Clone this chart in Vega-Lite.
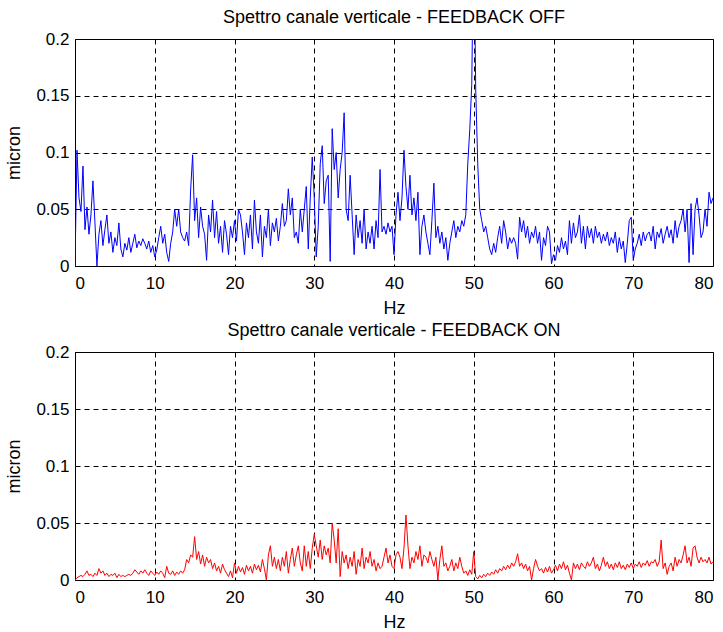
{
  "$schema": "https://vega.github.io/schema/vega-lite/v6.json",
  "padding": {"left": 5, "top": 8, "right": 0, "bottom": 0},
  "spacing": 3,
  "data": {
    "values": [
      {"hz":0,"off":0,"on":0},{"hz":0.25,"off":0.102,"on":0.002},{"hz":0.5,"off":0.06,"on":0.003},{"hz":0.75,"off":0.048,"on":0.004},
      {"hz":1,"off":0.088,"on":0.003},{"hz":1.25,"off":0.032,"on":0.005},{"hz":1.5,"off":0.052,"on":0.008},{"hz":1.75,"off":0.028,"on":0.004},
      {"hz":2,"off":0.045,"on":0.005},{"hz":2.25,"off":0.075,"on":0.003},{"hz":2.5,"off":0.038,"on":0.006},{"hz":2.75,"off":0,"on":0.004},
      {"hz":3,"off":0.028,"on":0.01},{"hz":3.25,"off":0.04,"on":0.006},{"hz":3.5,"off":0.018,"on":0.008},{"hz":3.75,"off":0.032,"on":0.004},
      {"hz":4,"off":0.045,"on":0.006},{"hz":4.25,"off":0.02,"on":0.003},{"hz":4.5,"off":0.03,"on":0.005},{"hz":4.75,"off":0.012,"on":0.004},
      {"hz":5,"off":0.025,"on":0.006},{"hz":5.25,"off":0.018,"on":0.002},{"hz":5.5,"off":0.038,"on":0.005},{"hz":5.75,"off":0.015,"on":0.003},
      {"hz":6,"off":0.008,"on":0.004},{"hz":6.25,"off":0.02,"on":0.003},{"hz":6.5,"off":0.014,"on":0.004},{"hz":6.75,"off":0.025,"on":0.005},
      {"hz":7,"off":0.012,"on":0.004},{"hz":7.25,"off":0.02,"on":0.006},{"hz":7.5,"off":0.028,"on":0.009},{"hz":7.75,"off":0.016,"on":0.007},
      {"hz":8,"off":0.022,"on":0.005},{"hz":8.25,"off":0.018,"on":0.008},{"hz":8.5,"off":0.024,"on":0.006},{"hz":8.75,"off":0.02,"on":0.009},
      {"hz":9,"off":0.015,"on":0.006},{"hz":9.25,"off":0.022,"on":0.004},{"hz":9.5,"off":0.012,"on":0.008},{"hz":9.75,"off":0.018,"on":0.006},
      {"hz":10,"off":0.008,"on":0.004},{"hz":10.25,"off":0.014,"on":0.007},{"hz":10.5,"off":0.025,"on":0.005},{"hz":10.75,"off":0.035,"on":0.008},
      {"hz":11,"off":0.02,"on":0.006},{"hz":11.25,"off":0.028,"on":0.002},{"hz":11.5,"off":0.012,"on":0.012},{"hz":11.75,"off":0.004,"on":0.006},
      {"hz":12,"off":0.02,"on":0.005},{"hz":12.25,"off":0.03,"on":0.008},{"hz":12.5,"off":0.05,"on":0.004},{"hz":12.75,"off":0.035,"on":0.007},
      {"hz":13,"off":0.05,"on":0.005},{"hz":13.25,"off":0.03,"on":0.008},{"hz":13.5,"off":0.025,"on":0.006},{"hz":13.75,"off":0.022,"on":0.009},
      {"hz":14,"off":0.03,"on":0.018},{"hz":14.25,"off":0.018,"on":0.015},{"hz":14.5,"off":0.067,"on":0.022},{"hz":14.75,"off":0.098,"on":0.02},
      {"hz":15,"off":0.04,"on":0.038},{"hz":15.25,"off":0.06,"on":0.018},{"hz":15.5,"off":0.025,"on":0.025},{"hz":15.75,"off":0.052,"on":0.014},
      {"hz":16,"off":0.035,"on":0.022},{"hz":16.25,"off":0.028,"on":0.012},{"hz":16.5,"off":0.005,"on":0.02},{"hz":16.75,"off":0.045,"on":0.015},
      {"hz":17,"off":0.03,"on":0.018},{"hz":17.25,"off":0.058,"on":0.01},{"hz":17.5,"off":0.025,"on":0.015},{"hz":17.75,"off":0.048,"on":0.008},
      {"hz":18,"off":0.02,"on":0.012},{"hz":18.25,"off":0.035,"on":0.006},{"hz":18.5,"off":0.012,"on":0.014},{"hz":18.75,"off":0.04,"on":0.009},
      {"hz":19,"off":0.028,"on":0.006},{"hz":19.25,"off":0.01,"on":0.003},{"hz":19.5,"off":0.035,"on":0.008},{"hz":19.75,"off":0.025,"on":0.002},
      {"hz":20,"off":0.04,"on":0.015},{"hz":20.25,"off":0.022,"on":0.006},{"hz":20.5,"off":0.05,"on":0.012},{"hz":20.75,"off":0.045,"on":0.007},
      {"hz":21,"off":0.03,"on":0.011},{"hz":21.25,"off":0.01,"on":0.005},{"hz":21.5,"off":0.038,"on":0.013},{"hz":21.75,"off":0.025,"on":0.008},
      {"hz":22,"off":0.045,"on":0.012},{"hz":22.25,"off":0.015,"on":0.006},{"hz":22.5,"off":0.058,"on":0.014},{"hz":22.75,"off":0.03,"on":0.009},
      {"hz":23,"off":0.02,"on":0.013},{"hz":23.25,"off":0.045,"on":0.007},{"hz":23.5,"off":0.008,"on":0.018},{"hz":23.75,"off":0.035,"on":0.01},
      {"hz":24,"off":0.025,"on":0},{"hz":24.25,"off":0.05,"on":0.022},{"hz":24.5,"off":0.018,"on":0.03},{"hz":24.75,"off":0.038,"on":0.012},
      {"hz":25,"off":0.03,"on":0.02},{"hz":25.25,"off":0.042,"on":0.01},{"hz":25.5,"off":0.022,"on":0.018},{"hz":25.75,"off":0.035,"on":0.008},
      {"hz":26,"off":0.055,"on":0.02},{"hz":26.25,"off":0.035,"on":0.012},{"hz":26.5,"off":0.04,"on":0.025},{"hz":26.75,"off":0.068,"on":0.006},
      {"hz":27,"off":0.045,"on":0.018},{"hz":27.25,"off":0.06,"on":0.028},{"hz":27.5,"off":0.025,"on":0.012},{"hz":27.75,"off":0.03,"on":0.022},
      {"hz":28,"off":0.02,"on":0.03},{"hz":28.25,"off":0.05,"on":0.015},{"hz":28.5,"off":0.03,"on":0.008},{"hz":28.75,"off":0.05,"on":0.03},
      {"hz":29,"off":0.07,"on":0.012},{"hz":29.25,"off":0.015,"on":0.025},{"hz":29.5,"off":0.06,"on":0.01},{"hz":29.75,"off":0.096,"on":0.028},
      {"hz":30,"off":0.06,"on":0.04},{"hz":30.25,"off":0.008,"on":0.03},{"hz":30.5,"off":0.035,"on":0.02},{"hz":30.75,"off":0.09,"on":0.035},
      {"hz":31,"off":0.106,"on":0.018},{"hz":31.25,"off":0.055,"on":0.03},{"hz":31.5,"off":0.075,"on":0.022},{"hz":31.75,"off":0.08,"on":0.028},
      {"hz":32,"off":0.004,"on":0.015},{"hz":32.25,"off":0.121,"on":0.05},{"hz":32.5,"off":0.085,"on":0.035},{"hz":32.75,"off":0.1,"on":0.015},
      {"hz":33,"off":0.06,"on":0.045},{"hz":33.25,"off":0.085,"on":0.003},{"hz":33.5,"off":0.1,"on":0.025},{"hz":33.75,"off":0.135,"on":0.015},
      {"hz":34,"off":0.05,"on":0.022},{"hz":34.25,"off":0.04,"on":0.01},{"hz":34.5,"off":0.08,"on":0.02},{"hz":34.75,"off":0.045,"on":0.012},
      {"hz":35,"off":0.01,"on":0.025},{"hz":35.25,"off":0.045,"on":0.005},{"hz":35.5,"off":0.025,"on":0.018},{"hz":35.75,"off":0.04,"on":0.012},
      {"hz":36,"off":0.02,"on":0.028},{"hz":36.25,"off":0.05,"on":0.01},{"hz":36.5,"off":0.015,"on":0.02},{"hz":36.75,"off":0.03,"on":0.015},
      {"hz":37,"off":0.02,"on":0.025},{"hz":37.25,"off":0.035,"on":0.012},{"hz":37.5,"off":0.015,"on":0.018},{"hz":37.75,"off":0.04,"on":0.008},
      {"hz":38,"off":0.025,"on":0.015},{"hz":38.25,"off":0.085,"on":0.01},{"hz":38.5,"off":0.03,"on":0.012},{"hz":38.75,"off":0.035,"on":0.02},
      {"hz":39,"off":0.028,"on":0.028},{"hz":39.25,"off":0.038,"on":0.015},{"hz":39.5,"off":0.03,"on":0.022},{"hz":39.75,"off":0.035,"on":0.012},
      {"hz":40,"off":0.01,"on":0.01},{"hz":40.25,"off":0.045,"on":0.022},{"hz":40.5,"off":0.065,"on":0.025},{"hz":40.75,"off":0.04,"on":0.02},
      {"hz":41,"off":0.06,"on":0.01},{"hz":41.25,"off":0.102,"on":0.028},{"hz":41.5,"off":0.07,"on":0.057},{"hz":41.75,"off":0.05,"on":0.03},
      {"hz":42,"off":0.08,"on":0.01},{"hz":42.25,"off":0.045,"on":0.02},{"hz":42.5,"off":0.06,"on":0.015},{"hz":42.75,"off":0.04,"on":0.025},
      {"hz":43,"off":0.065,"on":0.018},{"hz":43.25,"off":0.01,"on":0.03},{"hz":43.5,"off":0.035,"on":0.012},{"hz":43.75,"off":0.045,"on":0.022},
      {"hz":44,"off":0.03,"on":0.02},{"hz":44.25,"off":0.02,"on":0.015},{"hz":44.5,"off":0.01,"on":0.025},{"hz":44.75,"off":0.04,"on":0.018},
      {"hz":45,"off":0.073,"on":0.012},{"hz":45.25,"off":0.025,"on":0.02},{"hz":45.5,"off":0.035,"on":0},{"hz":45.75,"off":0.02,"on":0.018},
      {"hz":46,"off":0.03,"on":0.03},{"hz":46.25,"off":0.015,"on":0.012},{"hz":46.5,"off":0.025,"on":0.015},{"hz":46.75,"off":0.005,"on":0.008},
      {"hz":47,"off":0.02,"on":0.012},{"hz":47.25,"off":0.03,"on":0.018},{"hz":47.5,"off":0.04,"on":0.008},{"hz":47.75,"off":0.025,"on":0.015},
      {"hz":48,"off":0.035,"on":0.01},{"hz":48.25,"off":0.03,"on":0.02},{"hz":48.5,"off":0.04,"on":0.012},{"hz":48.75,"off":0.035,"on":0.006},
      {"hz":49,"off":0.045,"on":0.008},{"hz":49.25,"off":0.09,"on":0.004},{"hz":49.5,"off":0.12,"on":0.009},{"hz":49.75,"off":0.16,"on":0.005},
      {"hz":50,"off":0.3,"on":0.025},{"hz":50.25,"off":0.155,"on":0.003},{"hz":50.5,"off":0.09,"on":0.001},{"hz":50.75,"off":0.05,"on":0.004},
      {"hz":51,"off":0.04,"on":0.002},{"hz":51.25,"off":0.03,"on":0.005},{"hz":51.5,"off":0.035,"on":0.003},{"hz":51.75,"off":0.025,"on":0.006},
      {"hz":52,"off":0.015,"on":0.004},{"hz":52.25,"off":0.01,"on":0.007},{"hz":52.5,"off":0.02,"on":0.005},{"hz":52.75,"off":0.012,"on":0.009},
      {"hz":53,"off":0.025,"on":0.006},{"hz":53.25,"off":0.035,"on":0.01},{"hz":53.5,"off":0.02,"on":0.008},{"hz":53.75,"off":0.04,"on":0.012},
      {"hz":54,"off":0.03,"on":0.009},{"hz":54.25,"off":0.015,"on":0.013},{"hz":54.5,"off":0.025,"on":0.01},{"hz":54.75,"off":0.02,"on":0.015},
      {"hz":55,"off":0.025,"on":0.012},{"hz":55.25,"off":0.02,"on":0.016},{"hz":55.5,"off":0.006,"on":0.023},{"hz":55.75,"off":0.043,"on":0.012},
      {"hz":56,"off":0.03,"on":0.015},{"hz":56.25,"off":0.04,"on":0.01},{"hz":56.5,"off":0.025,"on":0.014},{"hz":56.75,"off":0.035,"on":0.008},
      {"hz":57,"off":0.02,"on":0.012},{"hz":57.25,"off":0.03,"on":0},{"hz":57.5,"off":0.025,"on":0.01},{"hz":57.75,"off":0.035,"on":0.018},
      {"hz":58,"off":0.02,"on":0.012},{"hz":58.25,"off":0.03,"on":0.008},{"hz":58.5,"off":0.005,"on":0.01},{"hz":58.75,"off":0.025,"on":0.006},
      {"hz":59,"off":0.018,"on":0.011},{"hz":59.25,"off":0.035,"on":0.007},{"hz":59.5,"off":0.03,"on":0.012},{"hz":59.75,"off":0.002,"on":0.006},
      {"hz":60,"off":0.01,"on":0.009},{"hz":60.25,"off":0.005,"on":0.013},{"hz":60.5,"off":0.018,"on":0.008},{"hz":60.75,"off":0.012,"on":0.014},
      {"hz":61,"off":0.025,"on":0.01},{"hz":61.25,"off":0.015,"on":0.016},{"hz":61.5,"off":0.022,"on":0.009},{"hz":61.75,"off":0.01,"on":0.013},
      {"hz":62,"off":0.04,"on":0.006},{"hz":62.25,"off":0.02,"on":0},{"hz":62.5,"off":0.038,"on":0.015},{"hz":62.75,"off":0.025,"on":0.01},
      {"hz":63,"off":0.03,"on":0.014},{"hz":63.25,"off":0.045,"on":0.009},{"hz":63.5,"off":0.02,"on":0.015},{"hz":63.75,"off":0.035,"on":0.012},
      {"hz":64,"off":0.015,"on":0.01},{"hz":64.25,"off":0.035,"on":0.016},{"hz":64.5,"off":0.025,"on":0.012},{"hz":64.75,"off":0.033,"on":0.015},
      {"hz":65,"off":0.02,"on":0.02},{"hz":65.25,"off":0.035,"on":0.01},{"hz":65.5,"off":0.025,"on":0.014},{"hz":65.75,"off":0.03,"on":0.008},
      {"hz":66,"off":0.02,"on":0.013},{"hz":66.25,"off":0.028,"on":0.02},{"hz":66.5,"off":0.022,"on":0.012},{"hz":66.75,"off":0.03,"on":0.016},
      {"hz":67,"off":0.018,"on":0.01},{"hz":67.25,"off":0.025,"on":0.014},{"hz":67.5,"off":0.02,"on":0.009},{"hz":67.75,"off":0.03,"on":0.015},
      {"hz":68,"off":0.012,"on":0.011},{"hz":68.25,"off":0.025,"on":0.016},{"hz":68.5,"off":0.015,"on":0.01},{"hz":68.75,"off":0.022,"on":0.013},
      {"hz":69,"off":0.003,"on":0.009},{"hz":69.25,"off":0.02,"on":0.014},{"hz":69.5,"off":0.04,"on":0.011},{"hz":69.75,"off":0.043,"on":0.015},
      {"hz":70,"off":0.005,"on":0.01},{"hz":70.25,"off":0.015,"on":0.014},{"hz":70.5,"off":0.02,"on":0.012},{"hz":70.75,"off":0.028,"on":0.016},
      {"hz":71,"off":0.018,"on":0.011},{"hz":71.25,"off":0.03,"on":0.015},{"hz":71.5,"off":0.022,"on":0.013},{"hz":71.75,"off":0.028,"on":0.017},
      {"hz":72,"off":0.03,"on":0.012},{"hz":72.25,"off":0.022,"on":0.016},{"hz":72.5,"off":0.035,"on":0.015},{"hz":72.75,"off":0.015,"on":0.018},
      {"hz":73,"off":0.03,"on":0.012},{"hz":73.25,"off":0.025,"on":0.016},{"hz":73.5,"off":0.033,"on":0.035},{"hz":73.75,"off":0.02,"on":0.01},
      {"hz":74,"off":0.028,"on":0.015},{"hz":74.25,"off":0.035,"on":0.005},{"hz":74.5,"off":0.025,"on":0.012},{"hz":74.75,"off":0.032,"on":0.015},
      {"hz":75,"off":0.02,"on":0.008},{"hz":75.25,"off":0.04,"on":0.02},{"hz":75.5,"off":0.025,"on":0.012},{"hz":75.75,"off":0.035,"on":0.018},
      {"hz":76,"off":0.04,"on":0.015},{"hz":76.25,"off":0.05,"on":0.022},{"hz":76.5,"off":0.03,"on":0.03},{"hz":76.75,"off":0.05,"on":0.015},
      {"hz":77,"off":0.003,"on":0.02},{"hz":77.25,"off":0.055,"on":0.012},{"hz":77.5,"off":0.01,"on":0.028},{"hz":77.75,"off":0.05,"on":0.03},
      {"hz":78,"off":0.06,"on":0.02},{"hz":78.25,"off":0.045,"on":0.015},{"hz":78.5,"off":0.025,"on":0.02},{"hz":78.75,"off":0.03,"on":0.016},
      {"hz":79,"off":0.05,"on":0.018},{"hz":79.25,"off":0.035,"on":0.015},{"hz":79.5,"off":0.065,"on":0.02},{"hz":79.75,"off":0.055,"on":0.014},
      {"hz":80,"off":0.06,"on":0.016}
    ]
  },
  "vconcat": [
    {
      "title": {"text": "Spettro canale verticale - FEEDBACK OFF", "offset": 3},
      "width": 638,
      "height": 227,
      "mark": {"type": "line", "color": "#0000ff", "strokeWidth": 1, "clip": true},
      "encoding": {
        "x": {"field": "hz", "type": "quantitative", "title": "Hz",
              "scale": {"domain": [0, 80], "nice": false},
              "axis": {"values": [0, 10, 20, 30, 40, 50, 60, 70, 80], "format": "d"}},
        "y": {"field": "off", "type": "quantitative", "title": "micron",
              "scale": {"domain": [0, 0.2], "nice": false},
              "axis": {"values": [0, 0.05, 0.1, 0.15, 0.2], "format": "~g"}}
      }
    },
    {
      "title": {"text": "Spettro canale verticale - FEEDBACK ON", "offset": 3},
      "width": 638,
      "height": 228,
      "mark": {"type": "line", "color": "#ff0000", "strokeWidth": 1, "clip": true},
      "encoding": {
        "x": {"field": "hz", "type": "quantitative", "title": "Hz",
              "scale": {"domain": [0, 80], "nice": false},
              "axis": {"values": [0, 10, 20, 30, 40, 50, 60, 70, 80], "format": "d"}},
        "y": {"field": "on", "type": "quantitative", "title": "micron",
              "scale": {"domain": [0, 0.2], "nice": false},
              "axis": {"values": [0, 0.05, 0.1, 0.15, 0.2], "format": "~g"}}
      }
    }
  ],
  "config": {
    "font": "Liberation Sans",
    "background": "white",
    "view": {"stroke": "black", "strokeWidth": 1},
    "axis": {
      "labelFont": "Liberation Sans", "labelFontSize": 17, "labelColor": "black", "labelPadding": 6,
      "titleFont": "Liberation Sans", "titleFontSize": 18, "titleFontWeight": "normal", "titleColor": "black", "titlePadding": 4,
      "domain": false, "ticks": false,
      "grid": true, "gridColor": "black", "gridDash": [5, 4], "gridOpacity": 1, "gridWidth": 1
    },
    "axisX": {"labelPadding": 9, "titlePadding": 8},
    "axisY": {"titlePadding": 12},
    "title": {"font": "Liberation Sans", "fontSize": 18, "fontWeight": "normal", "color": "black", "anchor": "middle"}
  }
}
